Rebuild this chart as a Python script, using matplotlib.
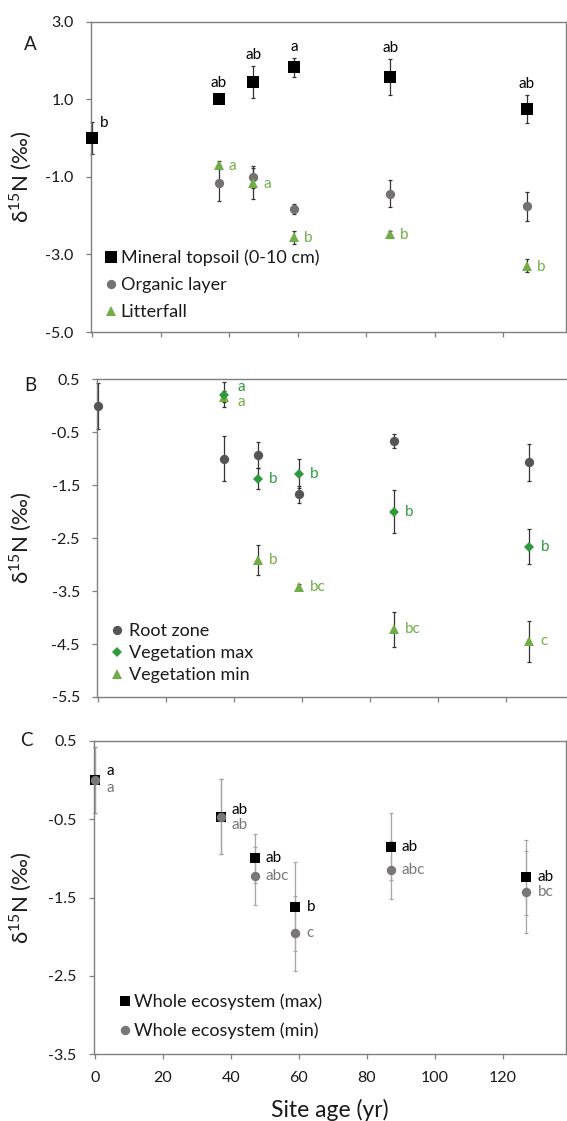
import matplotlib
matplotlib.use('Agg')
import matplotlib.pyplot as plt
from matplotlib.ticker import FuncFormatter, FixedLocator
from matplotlib.lines import Line2D

plt.rcParams['font.family'] = ['Lato', 'DejaVu Sans']
plt.rcParams['axes.unicode_minus'] = False
plt.rcParams['mathtext.fontset'] = 'custom'
plt.rcParams['mathtext.rm'] = 'Lato'

# ---------------- data ----------------
x_ticks = [0, 20, 40, 60, 80, 100, 120]

# Panel A
mineral_x = [0, 37, 47, 59, 87, 127]
mineral_y = [0.0, 1.0, 1.45, 1.82, 1.58, 0.76]
mineral_err = [0.42, 0.10, 0.41, 0.25, 0.46, 0.36]
mineral_lab = ['b', 'ab', 'ab', 'a', 'ab', 'ab']

organic_x = [37, 47, 59, 87, 127]
organic_y = [-1.16, -1.00, -1.84, -1.43, -1.76]
organic_err = [0.47, 0.28, 0.13, 0.34, 0.38]

litter_x = [37, 47, 59, 87, 127]
litter_y = [-0.69, -1.17, -2.56, -2.48, -3.29]
litter_err = [0.10, 0.40, 0.17, 0.08, 0.16]
litter_lab = ['a', 'a', 'b', 'b', 'b']

# Panel B
root_x = [0, 37, 47, 59, 87, 127]
root_y = [0.0, -1.00, -0.93, -1.67, -0.66, -1.07]
root_err = [0.43, 0.42, 0.24, 0.16, 0.13, 0.35]

vegmax_x = [37, 47, 59, 87, 127]
vegmax_y = [0.21, -1.38, -1.28, -2.00, -2.66]
vegmax_err = [0.24, 0.20, 0.28, 0.41, 0.33]
vegmax_lab = ['a', 'b', 'b', 'b', 'b']

vegmin_x = [37, 47, 59, 87, 127]
vegmin_y = [0.17, -2.91, -3.42, -4.22, -4.45]
vegmin_err = [0.10, 0.28, 0.05, 0.33, 0.39]
vegmin_lab = ['a', 'b', 'bc', 'bc', 'c']

# Panel C
eco_x = [0, 37, 47, 59, 87, 127]
ecomax_y = [0.0, -0.47, -1.00, -1.62, -0.85, -1.24]
ecomax_err = [0.42, 0.48, 0.31, 0.57, 0.43, 0.48]
ecomax_lab = ['a', 'ab', 'ab', 'b', 'ab', 'ab']
ecomin_y = [0.0, -0.47, -1.22, -1.96, -1.15, -1.43]
ecomin_err = [0.42, 0.48, 0.37, 0.48, 0.37, 0.52]
ecomin_lab = ['a', 'ab', 'abc', 'c', 'abc', 'bc']

# ---------------- style ----------------
BLACK = '#000000'
GREY = '#767171'
DARKGREY = '#555555'
GREEN = '#2e9a3c'
LGREEN = '#70ad47'
ECOGREY = '#7a7676'
SPINE = '#7f7f7f'
ERR = '#333333'
ECERR = '#a6a6a6'
TXT = '#1a1a1a'
LABFS = 11
TICKFS = 11.5
LEGFS = 13

fig = plt.figure(figsize=(5.67, 11.21), dpi=100)
W, H = 567.0, 1121.0


def make_ax(l_px, r_px, top_px, bot_px):
    return fig.add_axes([l_px / W, 1 - bot_px / H,
                         (r_px - l_px) / W, (bot_px - top_px) / H])


axA = make_ax(91.3, 566.4, 21.7, 332)
axB = make_ax(97.3, 568.5, 379.3, 697)
axC = make_ax(94.0, 565.5, 741, 1054)

fmt = FuncFormatter(lambda v, p: f"{v:.1f}")
for ax, ylim, yt in [(axA, (-5, 3), [3, 1, -1, -3, -5]),
                     (axB, (-5.5, 0.5), [0.5, -0.5, -1.5, -2.5, -3.5, -4.5, -5.5]),
                     (axC, (-3.5, 0.5), [0.5, -0.5, -1.5, -2.5, -3.5])]:
    ax.set_xlim(-0.3, 138.5)
    ax.set_ylim(*ylim)
    ax.yaxis.set_major_locator(FixedLocator(yt))
    ax.yaxis.set_major_formatter(fmt)
    ax.xaxis.set_major_locator(FixedLocator(x_ticks))
    for s in ax.spines.values():
        s.set_color(SPINE)
        s.set_linewidth(1.0)
    ax.tick_params(direction='out', length=3.6, width=0.9, color=SPINE,
                   labelsize=TICKFS, labelcolor=TXT, pad=9)
    ax.set_ylabel(r'δ$^{15}$N (‰)', fontsize=16, color=TXT)
    l_px = ax.get_position().x0 * W
    w_px = ax.get_position().width * W
    ax.yaxis.set_label_coords((34 - l_px) / w_px, 0.5)

axA.tick_params(axis='x', labelbottom=False)
axB.tick_params(axis='x', labelbottom=False)
axC.set_xlabel('Site age (yr)', fontsize=16.5, color=TXT, labelpad=10)


def ebar(ax, x, y, e, ecolor=ERR):
    ax.errorbar(x, y, yerr=e, fmt='none', ecolor=ecolor, elinewidth=0.9,
                capsize=1.7, capthick=0.9, zorder=2, clip_on=False)


def pts(ax, x, y, m, ms, c, z):
    ax.plot(x, y, ls='', marker=m, ms=ms, color=c, mec=c, mew=0,
            zorder=z, clip_on=False)


def lab(ax, x, y, text, color, dx, dy, ha='left'):
    ax.annotate(text, (x, y), xytext=(dx, dy), textcoords='offset pixels',
                ha=ha, va='center', fontsize=LABFS, color=color,
                annotation_clip=False)


# ---- Panel A ----
ebar(axA, organic_x, organic_y, organic_err)
ebar(axA, litter_x, litter_y, litter_err)
ebar(axA, mineral_x, mineral_y, mineral_err)
pts(axA, organic_x, organic_y, 'o', 6.7, GREY, 3)
pts(axA, litter_x, litter_y, '^', 6.5, LGREEN, 4)
pts(axA, mineral_x, mineral_y, 's', 8.9, BLACK, 5)
for i, (x, y, e, t) in enumerate(zip(mineral_x, mineral_y, mineral_err, mineral_lab)):
    if i == 0:
        lab(axA, x, y, t, BLACK, 8, 15)
    else:
        lab(axA, x, max(y + e, y + 0.15), t, BLACK, 0, 10.5, ha='center')
for x, y, t in zip(litter_x, litter_y, litter_lab):
    lab(axA, x, y, t, LGREEN, 10, -1)

hA = [Line2D([], [], ls='', marker='s', ms=8.9, color=BLACK, mew=0),
      Line2D([], [], ls='', marker='o', ms=6.7, color=GREY, mew=0),
      Line2D([], [], ls='', marker='^', ms=6.5, color=LGREEN, mew=0)]
axA.legend(hA, ['Mineral topsoil (0-10 cm)', 'Organic layer', 'Litterfall'],
           loc='center left', bbox_to_anchor=(0.028, 0.152), frameon=False,
           fontsize=LEGFS, handlelength=0.7, handletextpad=0.2, borderpad=0,
           borderaxespad=0, labelspacing=0.62, numpoints=1, labelcolor=TXT)

# ---- Panel B ----
ebar(axB, root_x, root_y, root_err)
ebar(axB, vegmin_x, vegmin_y, vegmin_err)
ebar(axB, vegmax_x, vegmax_y, vegmax_err)
pts(axB, root_x, root_y, 'o', 6.7, DARKGREY, 3)
pts(axB, vegmin_x, vegmin_y, '^', 7.2, LGREEN, 4)
pts(axB, vegmax_x, vegmax_y, 'D', 5.6, GREEN, 5)
for i, (x, y, t) in enumerate(zip(vegmax_x, vegmax_y, vegmax_lab)):
    lab(axB, x, y, t, GREEN, 14 if i == 0 else 11, 8 if i == 0 else 0)
for i, (x, y, t) in enumerate(zip(vegmin_x, vegmin_y, vegmin_lab)):
    lab(axB, x, y, t, LGREEN, 14 if i == 0 else 11, -5 if i == 0 else 0)

hB = [Line2D([], [], ls='', marker='o', ms=6.7, color=DARKGREY, mew=0),
      Line2D([], [], ls='', marker='D', ms=5.6, color=GREEN, mew=0),
      Line2D([], [], ls='', marker='^', ms=7.2, color=LGREEN, mew=0)]
axB.legend(hB, ['Root zone', 'Vegetation max', 'Vegetation min'],
           loc='center left', bbox_to_anchor=(0.028, 0.138), frameon=False,
           fontsize=LEGFS, handlelength=0.7, handletextpad=0.3, borderpad=0,
           borderaxespad=0, labelspacing=0.32, numpoints=1, labelcolor=TXT)

# ---- Panel C ----
ebar(axC, eco_x, ecomax_y, ecomax_err, ecolor=ECERR)
ebar(axC, eco_x, ecomin_y, ecomin_err, ecolor=ECERR)
pts(axC, eco_x, ecomax_y, 's', 6.8, BLACK, 4)
pts(axC, eco_x, ecomin_y, 'o', 6.8, ECOGREY, 5)
max_dy = [9, 7, 0, 0, 0, 0]
min_dy = [-8, -8, 0, 0, 0, 0]
for x, y, t, d in zip(eco_x, ecomax_y, ecomax_lab, max_dy):
    lab(axC, x, y, t, BLACK, 11, d)
for x, y, t, d in zip(eco_x, ecomin_y, ecomin_lab, min_dy):
    lab(axC, x, y, t, ECOGREY, 11, d)

hC = [Line2D([], [], ls='', marker='s', ms=6.8, color=BLACK, mew=0),
      Line2D([], [], ls='', marker='o', ms=6.8, color=ECOGREY, mew=0)]
axC.legend(hC, ['Whole ecosystem (max)', 'Whole ecosystem (min)'],
           loc='center left', bbox_to_anchor=(0.052, 0.121), frameon=False,
           fontsize=LEGFS, handlelength=0.7, handletextpad=0.18, borderpad=0,
           borderaxespad=0, labelspacing=0.68, numpoints=1, labelcolor=TXT)

for t, (px, py) in zip(['A', 'B', 'C'], [(30, 45), (30, 385), (26, 741)]):
    fig.text(px / W, 1 - py / H, t, fontsize=13.5, ha='center', va='center',
             color=TXT)

fig.savefig('out.png', dpi=100)
